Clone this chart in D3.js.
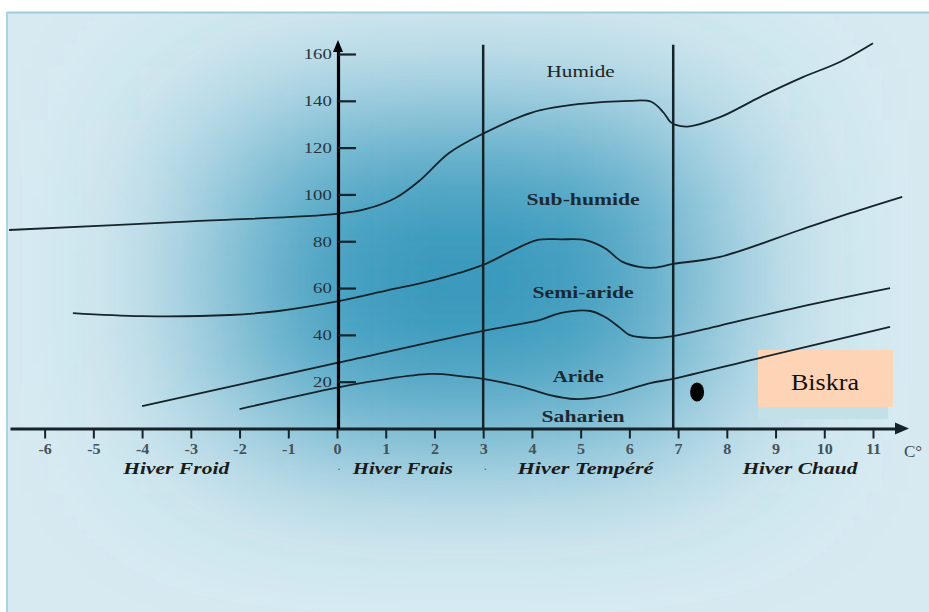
<!DOCTYPE html>
<html><head><meta charset="utf-8">
<script src="https://cdn.jsdelivr.net/npm/d3@7"></script>
<style>body{margin:0;background:#fff}svg{display:block}</style>
</head><body>
<svg id="c" width="929" height="612"></svg>
<script>
// ---- data ----
const xTicks = [-6,-5,-4,-3,-2,-1,0,1,2,3,4,5,6,7,8,9,10,11];
const yTicks = [20,40,60,80,100,120,140,160];

const humideX = [-6.73,-3,0,0.6,1.2,1.7,2.3,3,4,5,6,6.45,6.7,6.84,6.95,7.2,7.86,8.69,9.55,10.33,11];
const humideY = [84.8,88.5,91.7,93.8,98.5,106,117.7,126,135,138.7,140,139.6,135,131,129.7,129,133,141.7,150,156.7,164.6];

const subHumideX = [-5.42,-4,-2.2,-1.2,0,1.03,2,3,3.6,4.1,4.6,5.1,5.5,5.85,6.2,6.5,6.9,7.86,9.5,10.53,11.6];
const subHumideY = [49.3,48,48.5,50.2,54.3,59,63.5,69.9,76,80.5,80.8,80.5,77,71.3,69.1,68.7,70.3,73.3,84.8,92,99];

const semiArideX = [-4,0,3,4.17,4.58,5.2,5.5,5.81,6.0,6.43,6.9,7.86,9.5,11.35];
const semiArideY = [9.6,28,41.7,46.4,49.3,50.2,47.6,43,40,38.7,39.5,44,52,60];

const arideX = [-2,0,0.88,1.92,2.53,3,3.76,4.37,4.88,5.4,5.81,6.43,6.9,8.65,11.35];
const arideY = [8.3,17.5,20.7,23.3,22.4,21.2,18,14.3,12.6,13.5,15.6,19.4,21.2,30,43.4];

const boundaryX = [3, 6.9];
const boundaryTop = 164;

const zoneNames = ["Humide","Sub-humide","Semi-aride","Aride","Saharien"];
const zoneX = [5.0,5.05,5.05,4.95,5.05];
const zoneY = [152.5,98,57.9,22.2,5.2];
const zoneBold = [false,true,true,true,true];
const zoneWidth = [68,113,101,51,83];

const winterNames = ["Hiver Froid","Hiver Frais","Hiver Tempéré","Hiver Chaud"];
const winterX = [-3.3,1.35,5.1,9.5];
const winterWidth = [106,100,136,115];

const stationName = ["Biskra"];
const stationX = [7.39];
const stationY = [15.6];

// ---- drawing ----
const svg = d3.select("#c");
const W = 929, H = 612;
const defs = svg.append("defs");
defs.append("clipPath").attr("id","frame").append("rect")
  .attr("x",7).attr("y",12).attr("width",W-7).attr("height",H-12);
const f = defs.append("filter").attr("id","blur")
  .attr("x","-100%").attr("y","-100%").attr("width","300%").attr("height","300%");
f.append("feGaussianBlur").attr("stdDeviation","95 80");

svg.append("rect").attr("width",W).attr("height",H).attr("fill","#fff");
const bg = svg.append("g").attr("clip-path","url(#frame)");
bg.append("rect").attr("x",7).attr("y",12).attr("width",W-7).attr("height",H-12).attr("fill","#d7eaf1");
bg.append("rect").attr("x",230).attr("y",120).attr("width",470).attr("height",320)
  .attr("fill","#3597bb").attr("filter","url(#blur)");
svg.append("line").attr("x1",7).attr("x2",W).attr("y1",12.5).attr("y2",12.5)
  .attr("stroke","#9dcddb").attr("stroke-width",2);
svg.append("line").attr("x1",7).attr("x2",7).attr("y1",12).attr("y2",H)
  .attr("stroke","#a9d5e2").attr("stroke-width",2);

const x = d3.scaleLinear().domain([0, 11]).range([337, 873]);
const y = d3.scaleLinear().domain([0, 160]).range([428.5, 54]);

const ink = "#15232b";

// Biskra box (behind lines)
svg.append("rect").attr("x",758).attr("y",352).attr("width",130).attr("height",67).attr("fill","#c3e0e9");
svg.append("rect").attr("x",758).attr("y",350).attr("width",135).attr("height",57).attr("fill","#fdd5b6");
svg.append("text").attr("x",825).attr("y",382).attr("text-anchor","middle").attr("dominant-baseline","central")
  .attr("font-family","Liberation Serif").attr("font-size",24).attr("fill","#111")
  .attr("textLength",68).attr("lengthAdjust","spacingAndGlyphs").text(stationName[0]);

// boundary verticals
svg.selectAll(".bnd").data(boundaryX).join("line").attr("class","bnd")
  .attr("x1",d=>x(d)).attr("x2",d=>x(d)).attr("y1",y(0)).attr("y2",y(boundaryTop))
  .attr("stroke",ink).attr("stroke-width",2.5);

// curves
const line = d3.line().x(d=>x(d[0])).y(d=>y(d[1])).curve(d3.curveCatmullRom.alpha(0.5));
const curves = [[humideX,humideY],[subHumideX,subHumideY],[semiArideX,semiArideY],[arideX,arideY]];
svg.selectAll(".crv").data(curves).join("path").attr("class","crv")
  .attr("d",c=>line(c[0].map((v,i)=>[v,c[1][i]])))
  .attr("fill","none").attr("stroke",ink).attr("stroke-width",1.8);

// x axis
const xa = d3.scaleLinear().domain([x.invert(10), x.invert(897)]).range([10, 897]);
const gx = svg.append("g").attr("transform",`translate(0,${y(0)})`)
  .call(d3.axisBottom(xa).tickValues(xTicks).tickSize(10).tickSizeOuter(0).tickPadding(6).tickFormat(d3.format("d")));
gx.select(".domain").attr("stroke",ink).attr("stroke-width",3);
gx.selectAll(".tick line").attr("stroke",ink).attr("stroke-width",2);
gx.selectAll(".tick text").attr("font-family","Liberation Serif").attr("font-size",14).attr("font-weight","bold")
  .attr("fill","#44535a").attr("transform","scale(1.15,1)").text(d=>d<0? "-"+Math.abs(d): d);
svg.append("path").attr("d",`M895,${y(0)-6}L909,${y(0)}L895,${y(0)+6}Z`).attr("fill",ink);
svg.append("text").attr("x",913).attr("y",451).attr("text-anchor","middle").attr("dominant-baseline","central")
  .attr("font-family","Liberation Serif").attr("font-size",17).attr("fill","#3a474d").text("C°");

// y axis
const ya = d3.scaleLinear().domain([0, y.invert(48)]).range([y(0), 48]);
const gy = svg.append("g").attr("transform",`translate(${x(0)+1},0)`)
  .call(d3.axisLeft(ya).tickValues(yTicks).tickSize(-18).tickSizeOuter(0).tickPadding(5));
gy.select(".domain").attr("stroke","#000").attr("stroke-width",3.2);
gy.selectAll(".tick line").attr("stroke",ink).attr("stroke-width",2.2);
gy.selectAll(".tick text").attr("font-family","Liberation Serif").attr("font-size",15)
  .attr("fill","#26343a").attr("transform","scale(1.25,1)");
svg.append("path").attr("d",`M${x(0)+1-5},52L${x(0)+1},40L${x(0)+1+5},52Z`).attr("fill","#000");

// zone labels
svg.selectAll(".zone").data(zoneNames).join("text").attr("class","zone")
  .attr("x",(d,i)=>x(zoneX[i])).attr("y",(d,i)=>y(zoneY[i]))
  .attr("text-anchor","middle").attr("dominant-baseline","central")
  .attr("font-family","Liberation Serif").attr("font-size",16)
  .attr("font-weight",(d,i)=>zoneBold[i]?"bold":"normal")
  .attr("fill",(d,i)=>zoneBold[i]?"#1b2a31":"#222")
  .attr("textLength",(d,i)=>zoneWidth[i]).attr("lengthAdjust","spacingAndGlyphs")
  .text(d=>d);

// winter labels
svg.selectAll(".win").data(winterNames).join("text").attr("class","win")
  .attr("x",(d,i)=>x(winterX[i])).attr("y",468)
  .attr("text-anchor","middle").attr("dominant-baseline","central")
  .attr("font-family","Liberation Serif").attr("font-size",16).attr("font-weight","bold").attr("font-style","italic")
  .attr("fill","#1a1a1a")
  .attr("textLength",(d,i)=>winterWidth[i]).attr("lengthAdjust","spacingAndGlyphs")
  .text(d=>d);
svg.selectAll(".dot2").data([0,3]).join("text").attr("class","dot2")
  .attr("x",d=>x(d)+2).attr("y",470).attr("text-anchor","middle")
  .attr("font-family","Liberation Serif").attr("font-size",12).attr("fill","#555").text(".");

// station point
svg.selectAll(".stn").data(stationX).join("ellipse").attr("class","stn")
  .attr("cx",(d)=>x(d)).attr("cy",(d,i)=>y(stationY[i])).attr("rx",7).attr("ry",9.5).attr("fill","#000");
</script>
</body></html>
